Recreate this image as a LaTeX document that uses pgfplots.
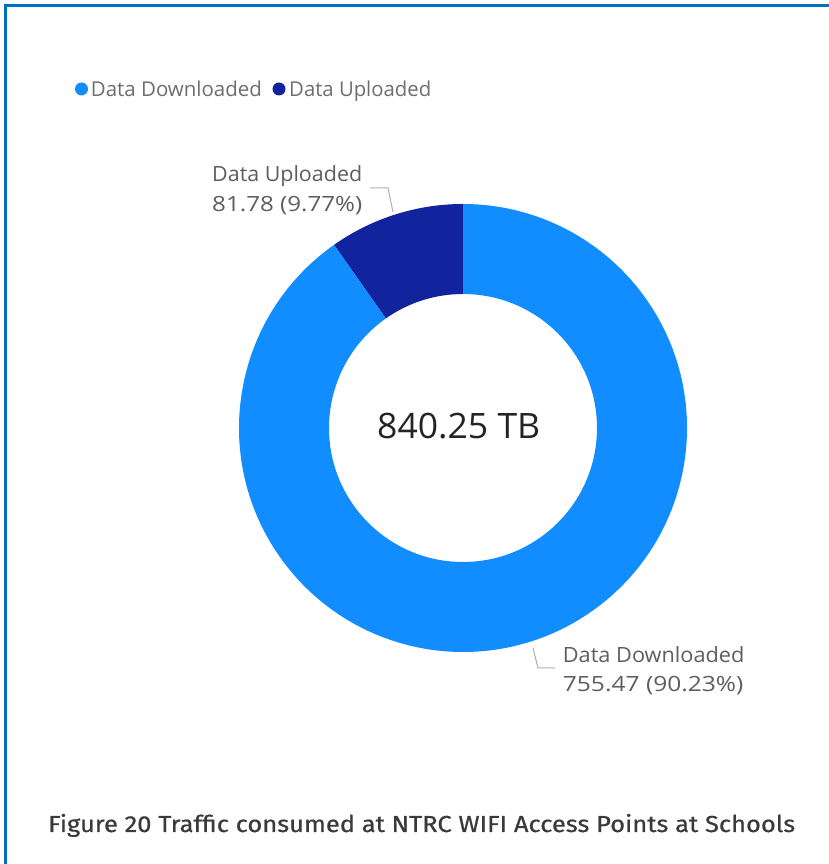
\documentclass[border=0pt]{standalone}
\usepackage{pgfplots}
\pgfplotsset{compat=1.18}
\usepackage{pgfplotstable}
\usepackage{fontspec}
\setmainfont{Open Sans}
\newfontfamily\capfont{Fira Sans}[UprightFeatures={FakeBold=0.6}]
\definecolor{down}{HTML}{118DFF}
\definecolor{up}{HTML}{12239E}
\definecolor{frame}{HTML}{0070C0}
\definecolor{lbl}{HTML}{605E5C}
\definecolor{leg}{HTML}{6E6E6E}
\definecolor{ctr}{HTML}{252423}
\definecolor{cap}{HTML}{3A3A3A}
\definecolor{lead}{HTML}{B0B0B0}

\pgfplotstableread{
label value
Downloaded 755.47
Uploaded 81.78
}\datatable
\pgfplotstablegetelem{0}{value}\of\datatable \let\vDown\pgfplotsretval
\pgfplotstablegetelem{1}{value}\of\datatable \let\vUp\pgfplotsretval
\pgfmathsetmacro\total{\vDown+\vUp}
\pgfmathsetmacro\frac{\vUp/\total}
\pgfmathsetmacro\aUp{360*\frac}
\pgfmathsetmacro\eUp{90+\aUp}

\newcommand\fitw[2]{\resizebox{#1}{\height}{#2}}

\begin{document}
\begin{tikzpicture}
\path[use as bounding box] (0,0) rectangle (829pt,864pt);
\fill[white] (0,0) rectangle (829pt,864pt);
\begin{axis}[hide axis, x=1pt, y=1pt, xmin=0, xmax=829, ymin=0, ymax=864,
  at={(0,0)}, anchor=origin, clip=false]
% frame
\draw[frame, line width=3pt] (axis cs:5.5,0) -- (axis cs:5.5,858.5) -- (axis cs:829,858.5);
% donut: uploaded
\fill[up] ([shift={(90:224pt)}]axis cs:463,436) arc[start angle=90, end angle=\eUp, radius=224pt]
  -- ([shift={(\eUp:134pt)}]axis cs:463,436) arc[start angle=\eUp, end angle=90, radius=134pt] -- cycle;
% donut: downloaded
\fill[down] ([shift={(\eUp:224pt)}]axis cs:463,436) arc[start angle=\eUp, end angle=450, radius=224pt]
  -- ([shift={(450:134pt)}]axis cs:463,436) arc[start angle=450, end angle=\eUp, radius=134pt] -- cycle;
% center text
\node[anchor=base, text=ctr, font=\fontsize{35}{35}\selectfont, inner sep=0pt] at (axis cs:458.7,425.7) {\fitw{163pt}{840.25 TB}};
% legend
\fill[down] (axis cs:81.5,775) circle[radius=6.5pt];
\node[anchor=base west, text=leg, font=\fontsize{20.5}{20.5}\selectfont, inner sep=0pt] at (axis cs:90.7,767.5) {\fitw{171pt}{Data Downloaded}};
\fill[up] (axis cs:279,775) circle[radius=6.5pt];
\node[anchor=base west, text=leg, font=\fontsize{20.5}{20.5}\selectfont, inner sep=0pt] at (axis cs:289,767.5) {\fitw{142pt}{Data Uploaded}};
% labels
\node[anchor=base west, text=lbl, font=\fontsize{21}{21}\selectfont, inner sep=0pt] at (axis cs:212,682) {\fitw{150pt}{Data Uploaded}};
\node[anchor=base west, text=lbl, font=\fontsize{21}{21}\selectfont, inner sep=0pt] at (axis cs:212,652) {\fitw{150pt}{81.78 (9.77\%)}};
\draw[lead, line width=1pt] (axis cs:370,676) -- (axis cs:388,676) -- (axis cs:393,652);
\node[anchor=base west, text=lbl, font=\fontsize{21}{21}\selectfont, inner sep=0pt] at (axis cs:562.7,201) {\fitw{181.5pt}{Data Downloaded}};
\node[anchor=base west, text=lbl, font=\fontsize{21}{21}\selectfont, inner sep=0pt] at (axis cs:562.7,172) {\fitw{180.5pt}{755.47 (90.23\%)}};
\draw[lead, line width=1pt] (axis cs:533,216) -- (axis cs:538,196) -- (axis cs:555,196);
% caption
\node[anchor=base west, text=cap, inner sep=0pt] at (axis cs:48,32)
  {\resizebox*{747pt}{23pt}{\capfont\fontsize{24}{24}\selectfont Figure 20 Traffic consumed at NTRC WIFI Access Points at Schools}};
\end{axis}
\end{tikzpicture}
\end{document}
